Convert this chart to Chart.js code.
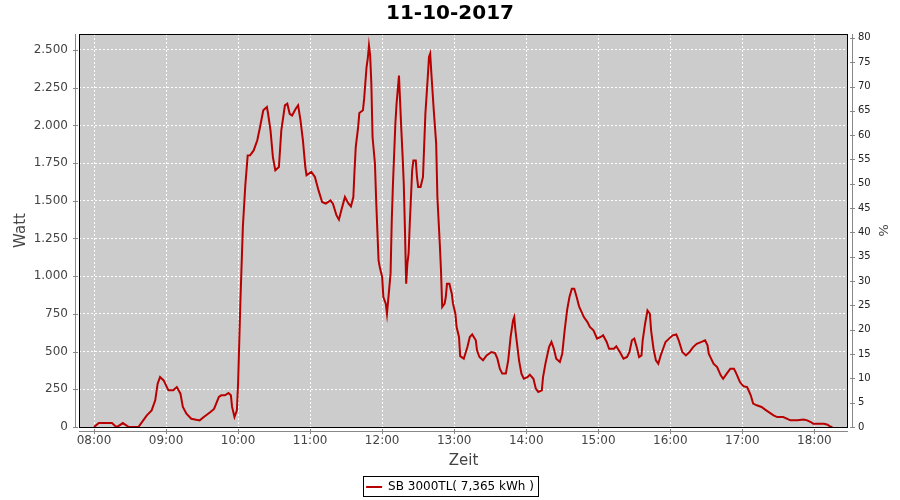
<!DOCTYPE html>
<html>
<head>
<meta charset="utf-8">
<title>11-10-2017</title>
<script src="https://cdn.jsdelivr.net/npm/chart.js@4.4.1/dist/chart.umd.min.js"></script>
<style>
html,body{margin:0;padding:0;background:#fff;}
#wrap{width:900px;height:500px;}
</style>
</head>
<body>
<div id="wrap"><canvas id="mychart" width="900" height="500"></canvas></div>
<script>
// readings of the day (time of day, Watt)
var times = ["08:00","08:04","08:15","08:18","08:20","08:24","08:29","08:37","08:41","08:44","08:48","08:51","08:53","08:55","08:58",
 "09:02","09:06","09:09","09:12","09:14","09:17","09:21","09:28","09:32","09:37","09:40","09:44","09:46","09:49","09:52","09:54","09:55","09:57","09:59",
 "10:00","10:02","10:04","10:06","10:08","10:10","10:13","10:16","10:18","10:21","10:24","10:25","10:27","10:29","10:31","10:34","10:36","10:39","10:41","10:43","10:45","10:48","10:50","10:52","10:54","10:56","10:57",
 "11:01","11:04","11:07","11:10","11:13","11:17","11:19","11:22","11:24","11:26","11:29","11:32","11:34","11:36","11:37","11:38","11:40","11:41","11:44","11:45","11:47","11:48","11:49","11:50","11:51","11:52","11:54","11:55","11:56","11:57","11:58",
 "12:00","12:01","12:03","12:04","12:05","12:07","12:08","12:09","12:11","12:12","12:14","12:16","12:17","12:18","12:19","12:20","12:21","12:22","12:23","12:25","12:26","12:28","12:29","12:30","12:32","12:34","12:35","12:36","12:38","12:39","12:40","12:41","12:43","12:45","12:46","12:48","12:49","12:50","12:52","12:53","12:54","12:56","12:58","12:59",
 "13:01","13:02","13:04","13:05","13:08","13:11","13:13","13:15","13:18","13:19","13:21","13:24","13:27","13:31","13:34","13:36","13:38","13:40","13:43","13:45","13:47","13:49","13:50","13:51","13:54","13:56","13:58",
 "14:01","14:03","14:06","14:08","14:10","14:13","14:14","14:16","14:19","14:21","14:23","14:25","14:28","14:30","14:32","14:34","14:36","14:38","14:40","14:42","14:44","14:48","14:51","14:53","14:56","14:59",
 "15:02","15:04","15:07","15:09","15:13","15:15","15:18","15:21","15:24","15:26","15:28","15:30","15:32","15:34","15:36","15:37","15:39","15:41","15:43","15:44","15:46","15:48","15:50","15:52","15:54","15:56","15:59",
 "16:02","16:05","16:07","16:10","16:13","16:16","16:19","16:22","16:26","16:29","16:31","16:32","16:34","16:36","16:39","16:42","16:44","16:47","16:50","16:53","16:55","16:58",
 "17:01","17:04","17:07","17:09","17:12","17:16","17:19","17:22","17:26","17:29","17:34","17:37","17:40","17:46","17:51","17:54","17:57","17:59",
 "18:04","18:08","18:11","18:13","18:15"];
var watt = [0,26,26,4,4,26,0,0,44,77,110,177,287,331,309,
 243,243,265,221,133,88,55,44,70,99,120,199,210,210,225,210,133,66,110,
 287,850,1330,1600,1800,1801,1834,1901,1978,2100,2122,2077,1967,1790,1702,1724,1967,2133,2144,2077,2066,2110,2133,2033,1901,1724,1669,
 1691,1658,1569,1492,1481,1503,1481,1403,1375,1437,1525,1481,1463,1525,1702,1856,1989,2082,2100,2177,2387,2442,2530,2464,2276,1923,1746,1503,1304,1105,1061,
 995,862,818,751,840,1017,1370,1613,2011,2144,2330,1967,1801,1613,1304,950,1083,1149,1348,1702,1768,1768,1658,1591,1591,1658,1867,2077,2320,2453,2475,2343,2099,1879,1525,1215,1039,796,818,862,950,950,884,818,
 751,663,597,470,453,530,597,614,575,508,464,442,475,497,490,453,387,354,354,442,597,707,729,641,442,354,320,
 331,347,320,254,232,243,331,420,530,564,519,453,431,486,641,773,862,917,917,862,800,729,696,663,641,586,
 597,608,564,519,519,535,497,453,464,497,575,586,530,464,475,575,685,773,751,641,519,442,420,475,519,564,586,
 608,614,575,497,475,497,530,552,564,575,541,486,453,420,398,343,320,354,387,387,354,298,
 270,265,210,155,144,133,115,99,77,66,66,55,44,44,49,44,33,22,
 22,22,15,4,0];

var hourTicks = ["08:00","09:00","10:00","11:00","12:00","13:00","14:00","15:00","16:00","17:00","18:00"];
var wattTicks = [0,250,500,750,1000,1250,1500,1750,2000,2250,2500];
var percentTicks = [0,5,10,15,20,25,30,35,40,45,50,55,60,65,70,75,80];
var seriesName = "SB 3000TL( 7,365 kWh )";

function toMin(t){
	var p = t.split(":");
	return parseInt(p[0],10)*60 + parseInt(p[1],10);
}
function fmtTime(m){
	var h = Math.floor(m/60), mm = Math.round(m%60);
	return (h<10?"0":"")+h+":"+(mm<10?"0":"")+mm;
}
function fmtDe(v){
	return String(v).replace(/\B(?=(\d{3})+(?!\d))/g, ".");
}

var points = times.map(function(t,i){ return {x: toMin(t), y: watt[i]}; });

Chart.defaults.font.family = "'DejaVu Sans', sans-serif";

// grey plot, black frame, offset axis lines like the original
var plotFrame = {
	id: 'plotFrame',
	beforeDraw: function(chart){
		var a = chart.chartArea, ctx = chart.ctx;
		ctx.save();
		ctx.fillStyle = '#cccccc';
		ctx.fillRect(a.left, a.top, a.right-a.left, a.bottom-a.top);
		ctx.restore();
	},
	afterDraw: function(chart){
		var a = chart.chartArea, ctx = chart.ctx;
		var sx = chart.scales.x, sy = chart.scales.y, sy1 = chart.scales.y1;
		ctx.save();
		ctx.lineWidth = 1;
		ctx.strokeStyle = '#000';
		ctx.strokeRect(a.left+0.5, a.top+0.5, a.right-a.left-1, a.bottom-a.top);

		ctx.strokeStyle = '#888';
		ctx.beginPath();
		ctx.moveTo(a.left-3.5, a.top); ctx.lineTo(a.left-3.5, a.bottom+1);
		ctx.moveTo(a.right+4.5, a.top); ctx.lineTo(a.right+4.5, a.bottom+1);
		ctx.moveTo(a.left, a.bottom+4.5); ctx.lineTo(a.right, a.bottom+4.5);
		sy.ticks.forEach(function(t){
			var y = Math.round(sy.getPixelForValue(t.value))+0.5;
			ctx.moveTo(a.left-6, y); ctx.lineTo(a.left-1, y);
		});
		sy1.ticks.forEach(function(t){
			var y = Math.round(sy1.getPixelForValue(t.value))+0.5;
			ctx.moveTo(a.right+2, y); ctx.lineTo(a.right+7, y);
		});
		sx.ticks.forEach(function(t){
			var x = Math.round(sx.getPixelForValue(t.value))+0.5;
			ctx.moveTo(x, a.bottom+2); ctx.lineTo(x, a.bottom+7);
		});
		ctx.stroke();

		// box round the legend
		var hb = chart.legend.legendHitBoxes[0];
		if (hb) {
			ctx.strokeStyle = '#000';
			ctx.strokeRect(Math.round(hb.left)-2.5, Math.round(hb.top)-4.5, Math.round(hb.width)+7, Math.round(hb.height)+8);
		}
		ctx.restore();
	}
};

var myChart = document.getElementById("mychart").getContext('2d');

var chart = new Chart(myChart, {
	type: 'line',
	data: {
		datasets: [{
			label: seriesName,
			data: points,
			borderColor: '#b80000',
			backgroundColor: '#b80000',
			borderWidth: 2,
			pointRadius: 0,
			tension: 0,
			fill: false,
			yAxisID: 'y'
		}]
	},
	options: {
		responsive: false,
		animation: false,
		devicePixelRatio: 1,
		layout: { padding: { top: 0, left: 0, right: 0, bottom: -3 } },
		plugins: {
			title: {
				display: true,
				text: '11-10-2017',
				color: '#000',
				font: { size: 20, weight: 'bold' },
				padding: { top: 2, bottom: 8 }
			},
			legend: {
				position: 'bottom',
				labels: {
					color: '#000',
					font: { size: 12 },
					boxWidth: 16,
					boxHeight: 2,
					padding: 3,
					generateLabels: function(c){
						return Chart.defaults.plugins.legend.labels.generateLabels(c).map(function(l){
							l.lineWidth = 0;
							l.fillStyle = '#b80000';
							return l;
						});
					}
				}
			},
			tooltip: { enabled: false }
		},
		scales: {
			x: {
				type: 'linear',
				position: 'bottom',
				min: 467.5,
				max: 1108,
				afterBuildTicks: function(s){ s.ticks = hourTicks.map(function(h){ return {value: toMin(h)}; }); },
				afterFit: function(s){ s.height = 51; },
				ticks: {
					callback: function(v){ return fmtTime(v); },
					color: '#444',
					font: { size: 12 },
					padding: 7,
					maxRotation: 0,
					autoSkip: false
				},
				grid: { color: '#ffffff', lineWidth: 1, drawTicks: false },
				border: { display: false, dash: [2,2] },
				title: { display: true, text: 'Zeit', color: '#444', font: { size: 15 }, padding: { top: 0, bottom: 8 } }
			},
			y: {
				position: 'left',
				min: 0,
				max: 2606,
				afterBuildTicks: function(s){ s.ticks = wattTicks.map(function(v){ return {value: v}; }); },
				afterFit: function(s){ s.width = 79; },
				ticks: {
					callback: function(v){ return fmtDe(v); },
					color: '#444',
					font: { size: 12 },
					padding: 11
				},
				grid: { color: '#ffffff', lineWidth: 1, drawTicks: false },
				border: { display: false, dash: [2,2] },
				title: { display: true, text: 'Watt', color: '#444', font: { size: 15 }, padding: { top: 12, bottom: 0 } }
			},
			y1: {
				position: 'right',
				min: 0,
				max: 80.8,
				afterBuildTicks: function(s){ s.ticks = percentTicks.map(function(v){ return {value: v}; }); },
				afterFit: function(s){ s.width = 52; },
				ticks: {
					color: '#222',
					font: { size: 10 },
					padding: 10
				},
				grid: { drawOnChartArea: false, drawTicks: false },
				border: { display: false },
				title: { display: true, text: '%', color: '#444', font: { size: 13 }, padding: { top: 10, bottom: 0 } }
			}
		}
	},
	plugins: [plotFrame]
});
</script>
</body>
</html>
